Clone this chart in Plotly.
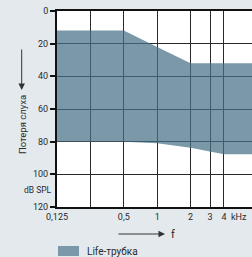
import plotly.graph_objects as go

# Data
freq_khz = [0.125, 0.5, 1, 2, 4, 8]
upper_db = [12, 12, 22, 32, 32, 32]     # band top (lower loss)
lower_db = [80, 80, 81, 83.7, 87.7, 87.7]  # band bottom (higher loss)
series_name = "Life-трубка"

x_tickvals = [0.125, 0.25, 0.5, 1, 2, 3, 4]
x_ticktext = ["0,125", "", "0,5", "1", "2", "3", "4"]
y_tickvals = [0, 20, 40, 60, 80, 100, 120]
y_ticktext = ["0", "20", "40", "60", "80", "100", "120"]

W, H = 252, 257
L, R, T, B = 57, 0, 11, 50
pw, ph = W - L - R, H - T - B

def px(x):
    return (x - L) / pw

def py(y):
    return (H - B - y) / ph

FONT = "Roboto"
TXT = "#2a2a2a"
BG = "#e3e9ed"

poly_x = freq_khz + freq_khz[::-1]
poly_y = upper_db + lower_db[::-1]

fig = go.Figure()
fig.add_trace(go.Scatter(
    x=poly_x, y=poly_y, mode="lines", fill="toself",
    fillcolor="rgba(70,112,134,0.72)", line=dict(width=0),
    name=series_name, showlegend=False, hoverinfo="skip"))

fig.update_layout(
    width=W, height=H,
    margin=dict(l=L, r=R, t=T, b=B, pad=0),
    paper_bgcolor=BG, plot_bgcolor="white",
    font=dict(family=FONT, size=9, color=TXT),
    showlegend=False,
    xaxis=dict(
        type="log", range=[-0.90309, 0.8549],
        tickvals=x_tickvals, ticktext=x_ticktext,
        showgrid=True, gridcolor="#2a2a2a", gridwidth=1,
        showline=True, linecolor="#111111", linewidth=2, mirror=True,
        ticks="", zeroline=False, automargin=False,
        tickfont=dict(family=FONT, size=9, color=TXT),
    ),
    yaxis=dict(
        range=[120, 0],
        tickvals=y_tickvals, ticktext=y_ticktext,
        showgrid=True, gridcolor="#2a2a2a", gridwidth=1,
        showline=True, linecolor="#111111", linewidth=2, mirror=False,
        ticks="outside", ticklen=5, tickwidth=2, tickcolor="#111111",
        zeroline=False, automargin=False,
        tickfont=dict(family=FONT, size=9, color=TXT),
    ),
)

def txt(x, y, text, size, xanchor="center", **kw):
    return dict(xref="paper", yref="paper", x=px(x), y=py(y), text=text,
                xanchor=xanchor, yanchor="middle", showarrow=False,
                font=dict(family=FONT, size=size, color=TXT), **kw)

ann = []
# y-axis arrow (pointing down)
ann.append(dict(xref="paper", yref="paper", x=px(21.7), y=py(90), text="",
                showarrow=True, ax=0, ay=-42, arrowhead=2, arrowsize=1.3,
                arrowwidth=1, arrowcolor="#333333"))
ann.append(txt(22, 125, "Потеря слуха", 9.5, textangle=-90))
ann.append(txt(37.5, 190, "dB SPL", 8.5))
ann.append(txt(229, 217, "kHz", 9, xanchor="left"))
# x arrow
ann.append(dict(xref="paper", yref="paper", x=px(165), y=py(234), text="",
                showarrow=True, ax=-48, ay=0, arrowhead=2, arrowsize=1.3,
                arrowwidth=1, arrowcolor="#333333"))
ann.append(txt(169, 234, "f", 11, xanchor="left"))
ann.append(txt(85, 251, series_name, 10, xanchor="left"))
fig.update_layout(annotations=ann)

# legend swatch
fig.add_shape(type="rect", xref="paper", yref="paper",
              x0=px(58), x1=px(79), y0=py(256), y1=py(246),
              fillcolor="rgb(122,152,168)", line=dict(width=0))

fig.write_html("out.html", config={"displayModeBar": False},
               post_script="document.body.style.margin='0';document.body.style.padding='0';")
